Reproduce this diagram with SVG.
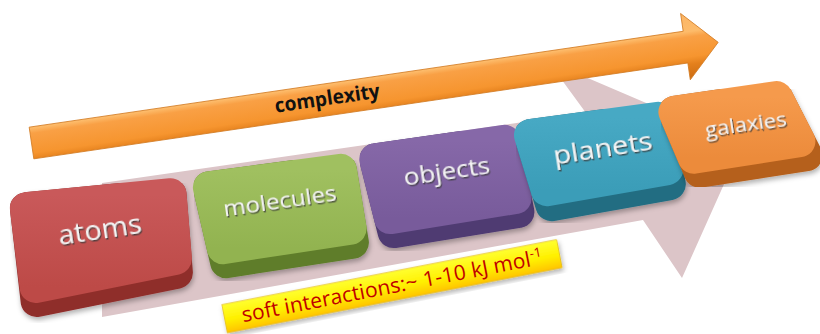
<svg xmlns="http://www.w3.org/2000/svg" width="820" height="334" viewBox="0 0 820 334">
  <defs>
    <style>
      .bevel { stroke-width: 32; stroke-linejoin: round; }
      .face { stroke-width: 32; stroke-linejoin: round; }
      .lbl { font-family: "Open Sans", "Liberation Sans", sans-serif; fill: #f4f4f4; text-anchor: middle; filter: url(#txtShadow); }
      .cx { font-family: "Open Sans", "Liberation Sans", sans-serif; font-weight: bold; font-size: 20px; fill: #111; text-anchor: middle; }
      .soft { font-family: "Open Sans", "Liberation Sans", sans-serif; font-size: 21px; fill: #c00000; text-anchor: middle; }
    </style>
    <filter id="txtShadow" x="-10%" y="-30%" width="120%" height="170%">
      <feDropShadow dx="1" dy="1.5" stdDeviation="0.6" flood-color="#3a3a3a" flood-opacity="0.85"/>
    </filter>
    <filter id="boxShadow" x="-10%" y="-10%" width="125%" height="130%">
      <feDropShadow dx="1" dy="3" stdDeviation="2.5" flood-color="#000" flood-opacity="0.3"/>
    </filter>
    <linearGradient id="gRed" x1="0" y1="0" x2="0" y2="1"><stop offset="0" stop-color="#c9595a"/><stop offset="1" stop-color="#bd4a47"/></linearGradient>
    <linearGradient id="gGreen" x1="0" y1="0" x2="0" y2="1"><stop offset="0" stop-color="#a0c060"/><stop offset="1" stop-color="#92b350"/></linearGradient>
    <linearGradient id="gPurple" x1="0" y1="0" x2="0" y2="1"><stop offset="0" stop-color="#8668a8"/><stop offset="1" stop-color="#785b9b"/></linearGradient>
    <linearGradient id="gBlue" x1="0" y1="0" x2="0" y2="1"><stop offset="0" stop-color="#47a9c4"/><stop offset="1" stop-color="#3b9db8"/></linearGradient>
    <linearGradient id="gOrange" x1="0" y1="0" x2="0" y2="1"><stop offset="0" stop-color="#f59a4c"/><stop offset="1" stop-color="#ec8b3b"/></linearGradient>
    <linearGradient id="gArrow" gradientUnits="userSpaceOnUse" x1="0" y1="-34" x2="0" y2="34">
      <stop offset="0" stop-color="#fbb565"/>
      <stop offset="0.28" stop-color="#fdbb6a"/>
      <stop offset="0.36" stop-color="#f9a045"/>
      <stop offset="0.65" stop-color="#f6952f"/>
      <stop offset="0.76" stop-color="#e4801c"/>
      <stop offset="1" stop-color="#c96a12"/>
    </linearGradient>
    <linearGradient id="gYellow" x1="0" y1="0" x2="0" y2="1">
      <stop offset="0" stop-color="#ffff30"/>
      <stop offset="0.55" stop-color="#fff000"/>
      <stop offset="1" stop-color="#ffc400"/>
    </linearGradient>
  </defs>

  <rect width="820" height="334" fill="#ffffff"/>

  <!-- broad background arrow running behind the blocks -->
  <polygon id="backdrop-arrow" points="102,183 586,113 548,61 742,144 682,278 643,220 102,317" fill="#dcc5c8"/>

  <g id="atoms">
    <polygon class="bevel" points="25.9,208.3 170.5,194.3 176.9,272.7 36.6,301" fill="#8f2e2c" stroke="#8f2e2c" filter="url(#boxShadow)"/>
    <polygon class="face" points="25.9,208.3 170.5,194.3 175.9,258.7 35.6,287" fill="url(#gRed)" stroke="url(#gRed)"/>
    <g transform="translate(100,231) rotate(-8.5)"><text class="lbl" x="0" y="7.5" font-size="28" textLength="84" lengthAdjust="spacingAndGlyphs">atoms</text></g>
  </g>

  <g id="molecules">
    <polygon class="bevel" points="208.9,187.4 340.8,169.8 352.9,242.6 226.1,262.2" fill="#5f7d2c" stroke="#5f7d2c" filter="url(#boxShadow)"/>
    <polygon class="face" points="208.9,187.4 340.8,169.8 350.6,228.6 222.9,248.2" fill="url(#gGreen)" stroke="url(#gGreen)"/>
    <g transform="translate(280,202.5) rotate(-8.2)"><text class="lbl" x="0" y="6" font-size="22" textLength="114" lengthAdjust="spacingAndGlyphs">molecules</text></g>
  </g>

  <g id="objects">
    <polygon class="bevel" points="375.3,159.3 504.5,140.8 518.4,212 393.6,232.1" fill="#4f3a72" stroke="#4f3a72" filter="url(#boxShadow)"/>
    <polygon class="face" points="375.3,159.3 504.5,140.8 515.6,198 390.1,218.1" fill="url(#gPurple)" stroke="url(#gPurple)"/>
    <g transform="translate(447,173.5) rotate(-8.3)"><text class="lbl" x="0" y="6" font-size="23" textLength="87" lengthAdjust="spacingAndGlyphs">objects</text></g>
  </g>

  <g id="planets">
    <polygon class="bevel" points="530,135.2 658.1,117.8 669.8,184.2 551.5,205.2" fill="#226d82" stroke="#226d82" filter="url(#boxShadow)"/>
    <polygon class="face" points="530,135.2 658.1,117.8 667.2,169.2 546.9,190.2" fill="url(#gBlue)" stroke="url(#gBlue)"/>
    <g transform="translate(603,150) rotate(-8.9)"><text class="lbl" x="0" y="7" font-size="26" textLength="100" lengthAdjust="spacingAndGlyphs">planets</text></g>
  </g>

  <g id="galaxies">
    <polygon class="bevel" points="674.4,111.9 776.7,97.1 806.5,155.3 699.7,171.7" fill="#b5601c" stroke="#b5601c" filter="url(#boxShadow)"/>
    <polygon class="face" points="674.4,111.9 776.7,97.1 799.4,141.3 693.8,157.7" fill="url(#gOrange)" stroke="url(#gOrange)"/>
    <g transform="translate(746,126) rotate(-8.7)"><text class="lbl" x="0" y="5.5" font-size="20" textLength="82" lengthAdjust="spacingAndGlyphs" fill="#e8e8e8">galaxies</text></g>
  </g>

  <g id="connectors">
    <!-- complexity arrow, drawn along its own axis -->
    <g id="complexity-arrow" transform="translate(31.5,143) rotate(-8.34)">
      <polygon points="0,-16 661,-16 661,-34 694,0 661,33 661,16 0,16" fill="url(#gArrow)" stroke="#d27b22" stroke-width="0.8" stroke-linejoin="round"/>
      <text class="cx" x="299" y="5.5" textLength="106" lengthAdjust="spacingAndGlyphs">complexity</text>
    </g>
  </g>

  <g id="soft-interactions" transform="translate(392,286.2) rotate(-11)">
    <rect x="-170.5" y="-14.2" width="341" height="28.4" fill="url(#gYellow)" stroke="#e0b000" stroke-width="0.6" filter="url(#boxShadow)"/>
    <text class="soft" x="0" y="7" textLength="306" lengthAdjust="spacing">soft interactions:~ 1-10 kJ mol<tspan dy="-8" font-size="13">-1</tspan></text>
  </g>
</svg>
